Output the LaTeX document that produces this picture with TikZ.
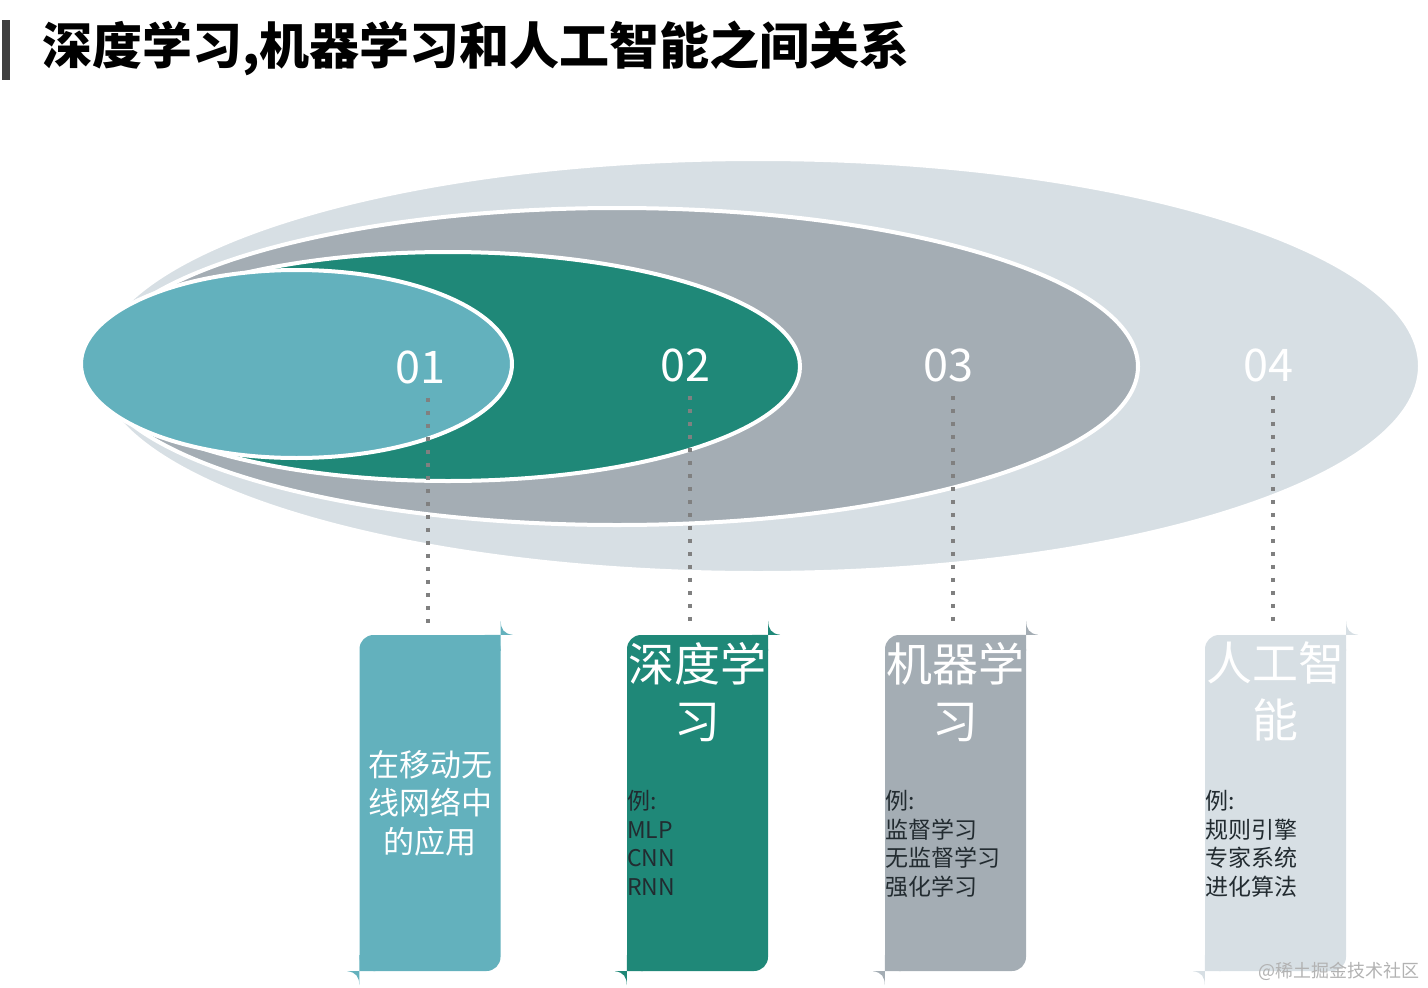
\documentclass[tikz,border=0pt]{standalone}
\usepackage{fontspec}
\setmainfont{Noto Sans CJK SC}
\usetikzlibrary{positioning,calc}
\definecolor{CardBlue}{RGB}{99,177,189}
\definecolor{CardTeal}{RGB}{31,136,120}
\definecolor{CardGray}{RGB}{164,173,180}
\definecolor{CardMist}{RGB}{215,223,228}
\definecolor{BarGray}{RGB}{64,64,64}
\definecolor{DotGray}{RGB}{128,128,128}
\definecolor{InkDark}{RGB}{34,43,48}
\tikzset{
	ring/.style={draw=white, line width=4pt},
	num/.style={text=white, inner sep=0pt, font=\fontsize{45}{45}\selectfont},
	dotline/.style={DotGray, line width=4.5pt, dash pattern=on 4.5pt off 8.5pt},
	card/.style={rounded corners=14pt, minimum width=141pt, minimum height=336pt, inner sep=0pt},
	cardtitle/.style={text=white, align=center, inner sep=0pt, font=\fontsize{46}{57}\selectfont},
	cardlist/.style={text=InkDark, align=left, inner sep=0pt, font=\fontsize{23}{28.7}\selectfont},
	cardcorner/.pic={\fill (0,0) -- (12,0) .. controls (3,-1) and (0,-6) .. (0,-14) -- cycle;}
}

\begin{document}
\begin{tikzpicture}[x=1pt, y=-1pt]
		\useasboundingbox (0,0) rectangle (1428,988);
		% 标题
		\fill[BarGray] (2,20) rectangle (10,80);
		\node[anchor=west, inner sep=0pt, font=\fontsize{50}{50}\selectfont\bfseries] (title) at (42,48) {深度学习,机器学习和人工智能之间关系};
		% 嵌套椭圆
		\draw[ring, fill=CardMist] (758,366) ellipse [x radius=662, y radius=207];
		\draw[ring, fill=CardGray] (617,366.5) ellipse [x radius=521, y radius=158.5];
		\draw[ring, fill=CardTeal] (448,366.5) ellipse [x radius=352, y radius=114.5];
		\draw[ring, fill=CardBlue] (296.5,364) ellipse [x radius=215.5, y radius=94];
		\node[num] (n1) at (420,367) {01};
		\node[num] (n2) at (685,365) {02};
		\node[num] (n3) at (948,365) {03};
		\node[num] (n4) at (1268,365) {04};
		% 卡片
		\node[card, fill=CardBlue] (b1) at (430,803) {};
		\node[card, fill=CardTeal] (b2) at (697.5,803) {};
		\node[card, fill=CardGray] (b3) at (955.5,803) {};
		\node[card, fill=CardMist] (b4) at (1275.5,803) {};
		\fill[CardBlue] (b1.north east) rectangle ++(-16,16) (b1.south west) rectangle ++(16,-16);
		\fill[CardTeal] (b2.north east) rectangle ++(-16,16) (b2.south west) rectangle ++(16,-16);
		\fill[CardGray] (b3.north east) rectangle ++(-16,16) (b3.south west) rectangle ++(16,-16);
		\fill[CardMist] (b4.north east) rectangle ++(-16,16) (b4.south west) rectangle ++(16,-16);
		\pic[CardBlue] at (b1.north east) {cardcorner};
		\pic[CardBlue, rotate=180] at (b1.south west) {cardcorner};
		\pic[CardTeal] at (b2.north east) {cardcorner};
		\pic[CardTeal, rotate=180] at (b2.south west) {cardcorner};
		\pic[CardGray] at (b3.north east) {cardcorner};
		\pic[CardGray, rotate=180] at (b3.south west) {cardcorner};
		\pic[CardMist] at (b4.north east) {cardcorner};
		\pic[CardMist, rotate=180] at (b4.south west) {cardcorner};
		% 虚线连接
		\draw[dotline, shorten <=14pt, shorten >=5pt] ([xshift=8pt]n1.south) -- ([xshift=8pt]n1.south |- b1.north);
		\draw[dotline, shorten <=14pt, shorten >=5pt] ([xshift=5pt]n2.south) -- ([xshift=5pt]n2.south |- b2.north);
		\draw[dotline, shorten <=14pt, shorten >=5pt] ([xshift=5pt]n3.south) -- ([xshift=5pt]n3.south |- b3.north);
		\draw[dotline, shorten <=14pt, shorten >=5pt] ([xshift=5pt]n4.south) -- ([xshift=5pt]n4.south |- b4.north);
		% 卡片文字
		\node[text=white, align=center, inner sep=0pt, font=\fontsize{31}{38.5}\selectfont] (t1) at (b1.center) {在移动无\\线网络中\\的应用};
		\node[cardtitle, below=7pt of b2.north] (t2) {深度学\\习};
		\node[cardtitle, below=7pt of b3.north] (t3) {机器学\\习};
		\node[cardtitle, below=7pt of b4.north] (t4) {人工智\\能};
		\node[cardlist, anchor=north west] (l2) at ([yshift=-155pt]b2.north west) {例:\\MLP\\CNN\\RNN};
		\node[cardlist, anchor=north west] (l3) at ([yshift=-155pt]b3.north west) {例:\\监督学习\\无监督学习\\强化学习};
		\node[cardlist, anchor=north west] (l4) at ([yshift=-155pt]b4.north west) {例:\\规则引擎\\专家系统\\进化算法};
		% 水印
		\node[anchor=east, inner sep=0pt, text=black!30, font=\fontsize{18}{18}\selectfont] (mark) at (1420,971) {@稀土掘金技术社区};
	\end{tikzpicture}
\end{document}
